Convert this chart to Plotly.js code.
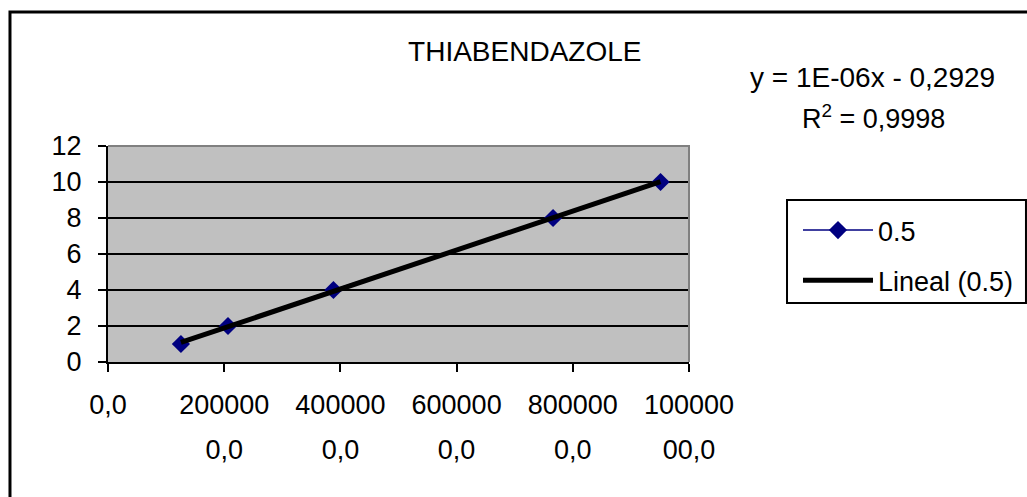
<!DOCTYPE html>
<html>
<head>
<meta charset="utf-8">
<script src="https://cdn.plot.ly/plotly-3.0.1.min.js"></script>
<style>
  html, body { margin: 0; padding: 0; background: #ffffff; }
  #chart { width: 1027px; height: 497px; }
</style>
</head>
<body>
<div id="chart"></div>
<script>
// ---- data ----
const chartTitle = "THIABENDAZOLE";
const seriesName = "0.5";
const trendName = "Lineal (0.5)";
const areas = [1255000, 2065000, 3880000, 7660000, 9510000];   // x values
const concentrations = [1, 2, 4, 8, 10];                        // y values
const xTickVals = [0, 2000000, 4000000, 6000000, 8000000, 10000000];
const xTickLine1 = ["0,0", "200000", "400000", "600000", "800000", "100000"];
const xTickVals2 = [2000000, 4000000, 6000000, 8000000, 10000000];
const xTickLine2 = ["0,0", "0,0", "0,0", "0,0", "00,0"];
const yTickVals = [0, 2, 4, 6, 8, 10, 12];
const equationText = "y = 1E-06x - 0,2929";
const r2Text = "R<sup>2</sup> = 0,9998";

// linear least-squares trend line (Excel "Lineal")
function linearFit(xs, ys) {
  const n = xs.length;
  const mx = xs.reduce((a, b) => a + b, 0) / n;
  const my = ys.reduce((a, b) => a + b, 0) / n;
  let sxy = 0, sxx = 0;
  for (let i = 0; i < n; i++) { sxy += (xs[i] - mx) * (ys[i] - my); sxx += (xs[i] - mx) ** 2; }
  const m = sxy / sxx;
  return { m: m, b: my - m * mx };
}
const fit = linearFit(areas, concentrations);
const trendX = [Math.min(...areas), Math.max(...areas)];
const trendY = trendX.map(x => fit.m * x + fit.b);

const FONT = "Liberation Sans, Arial, sans-serif";

const traces = [
  {
    x: areas, y: concentrations, name: seriesName, type: "scatter", mode: "lines+markers",
    line: { color: "#000080", width: 1.5 },
    marker: { symbol: "diamond", size: 14, color: "#000080" },
    legendgroup: "a"
  },
  {
    x: trendX, y: trendY, name: trendName, type: "scatter", mode: "lines",
    line: { color: "#000000", width: 5 },
    legendgroup: "b"
  },
  // empty helper trace so the second tick-label row axis is created
  { x: [], y: [], xaxis: "x2", yaxis: "y", type: "scatter", mode: "markers",
    showlegend: false, hoverinfo: "skip" }
];

const layout = {
  width: 1027, height: 497,
  margin: { l: 108, r: 338, t: 146, b: 135, pad: 0, autoexpand: false },
  paper_bgcolor: "#ffffff",
  plot_bgcolor: "#C0C0C0",
  font: { family: FONT, size: 27, color: "#000000" },
  title: {
    text: chartTitle, font: { family: FONT, size: 28, color: "#000000" },
    x: 0.511, xanchor: "center", y: 0.896, yanchor: "middle", xref: "container", yref: "container"
  },
  showlegend: true,
  legend: {
    x: 1.1876, xanchor: "left", y: 0.7222, yanchor: "top",
    borderwidth: 0, bgcolor: "rgba(0,0,0,0)",
    font: { family: FONT, size: 27, color: "#000000" },
    itemwidth: 70, tracegroupgap: 12
  },
  xaxis: {
    range: [0, 10000000], tickmode: "array", tickvals: xTickVals, ticktext: xTickLine1,
    showgrid: false, zeroline: false,
    showline: true, linecolor: "#000000", linewidth: 2,
    ticks: "outside", ticklen: 8, tickwidth: 2, tickcolor: "#000000",
    tickfont: { family: FONT, size: 27, color: "#000000" },
    ticklabelstandoff: 10, fixedrange: true
  },
  xaxis2: {
    overlaying: "x", anchor: "y", side: "bottom",
    range: [0, 10000000], tickmode: "array", tickvals: xTickVals2, ticktext: xTickLine2,
    showgrid: false, zeroline: false, showline: false, ticks: "",
    tickfont: { family: FONT, size: 27, color: "#000000" },
    ticklabelstandoff: 69, fixedrange: true
  },
  yaxis: {
    range: [0, 12], tickmode: "array", tickvals: yTickVals,
    showgrid: true, gridcolor: "#000000", gridwidth: 2, zeroline: false,
    showline: true, linecolor: "#000000", linewidth: 2,
    ticks: "outside", ticklen: 8, tickwidth: 2, tickcolor: "#000000",
    tickfont: { family: FONT, size: 27, color: "#000000" },
    ticklabelstandoff: 11, fixedrange: true
  },
  shapes: [
    // gray plot-area top/right border
    { type: "path", xref: "paper", yref: "paper", path: "M0,1 L1,1 L1,0",
      line: { color: "#808080", width: 2 }, layer: "above" },
    // outer chart-area border (cut off on right/bottom as in the reference)
    { type: "rect", xref: "paper", yref: "paper", x0: -0.1687, x1: 2, y0: -2, y1: 1.62,
      line: { color: "#000000", width: 3 }, layer: "below" },
    // legend box
    { type: "rect", xref: "paper", yref: "paper", x0: 1.1687, x1: 1.5800, y0: 0.2731, y1: 0.75,
      line: { color: "#000000", width: 2 }, fillcolor: "#ffffff", layer: "below" }
  ],
  annotations: [
    { text: equationText, xref: "paper", yref: "paper", x: 1.315, y: 1.3194,
      xanchor: "center", yanchor: "middle", showarrow: false,
      font: { family: FONT, size: 28, color: "#000000" } },
    { text: r2Text, xref: "paper", yref: "paper", x: 1.318, y: 1.133,
      xanchor: "center", yanchor: "middle", showarrow: false,
      font: { family: FONT, size: 27, color: "#000000" } }
  ]
};

Plotly.newPlot("chart", traces, layout, { displayModeBar: false, staticPlot: true });
</script>
</body>
</html>
